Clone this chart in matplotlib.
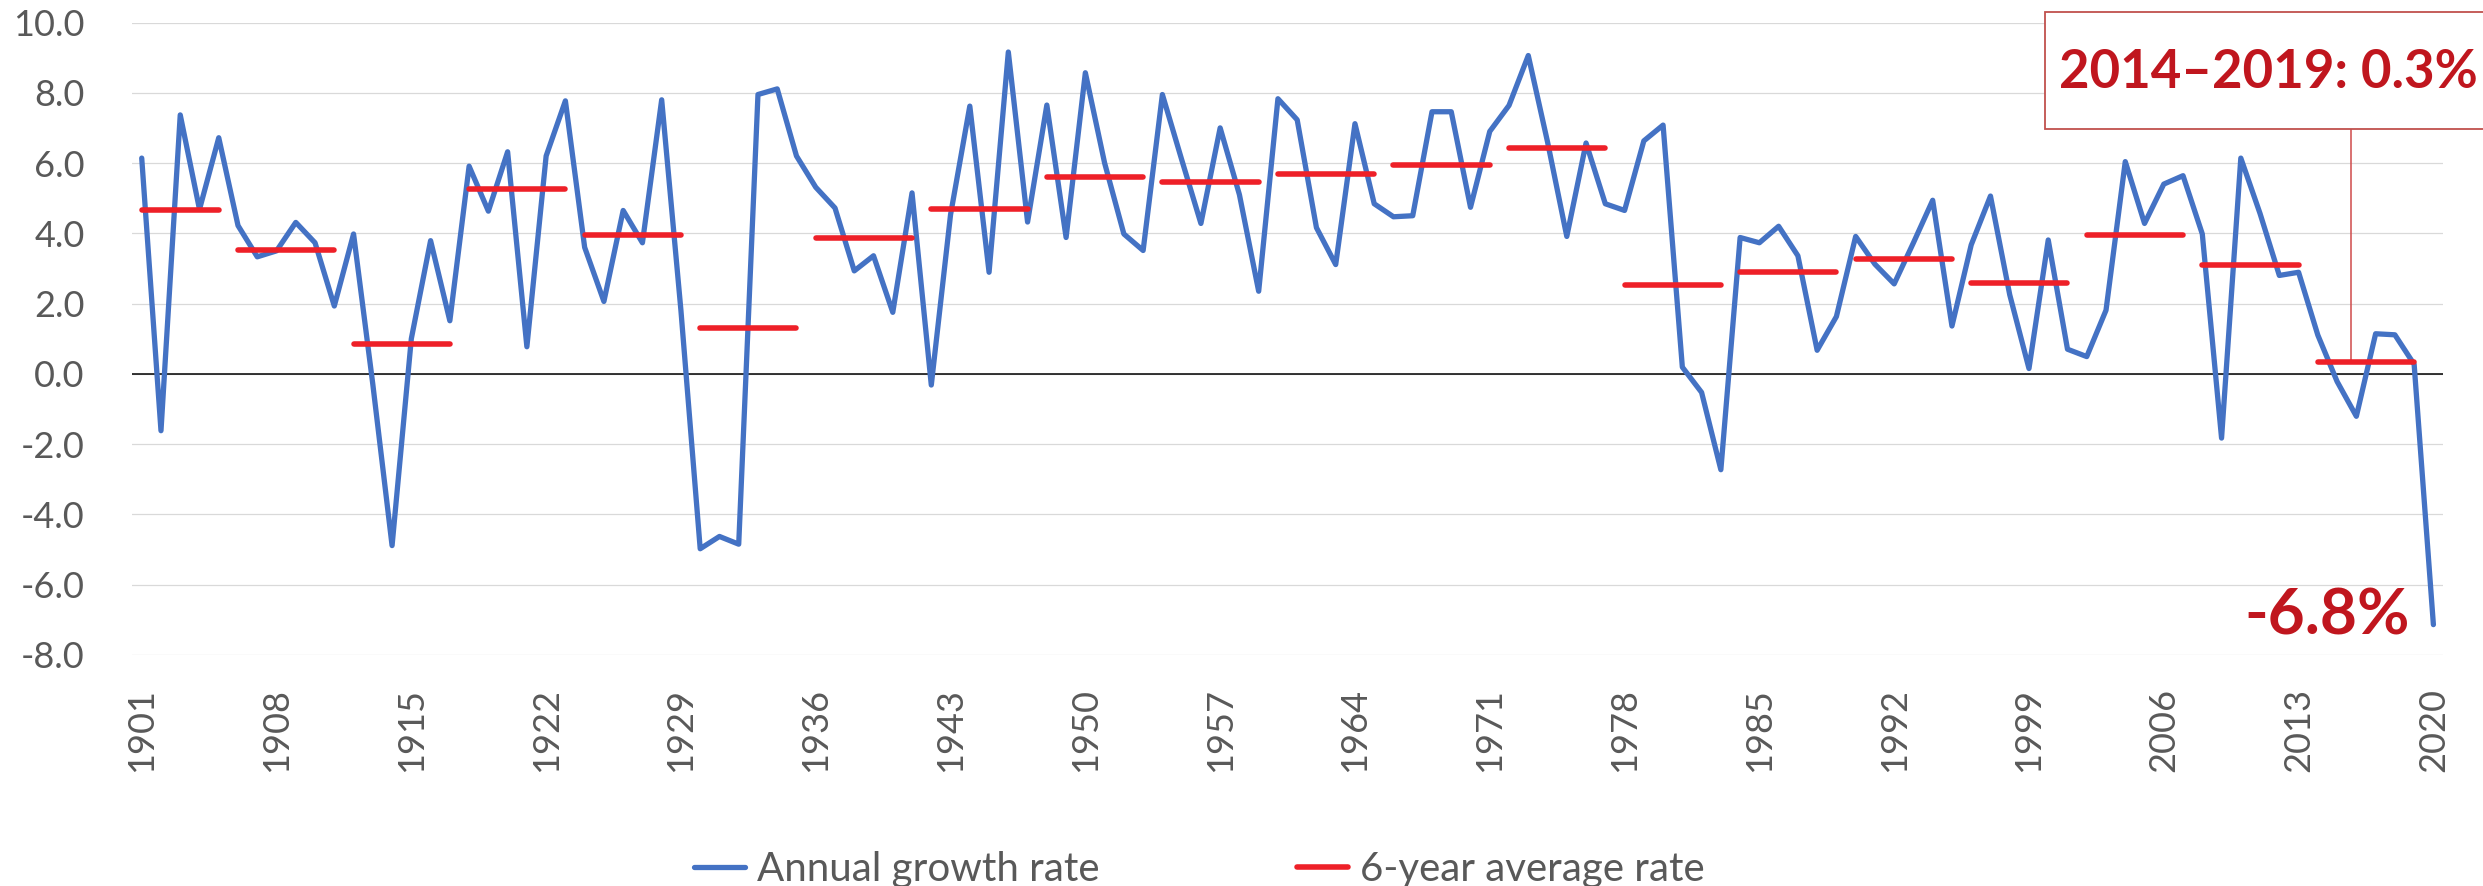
import numpy as np
import matplotlib
matplotlib.use("Agg")
from matplotlib import pyplot as plt
from matplotlib.patches import Rectangle

# annual growth rate, 1901-2020
years = np.arange(1901, 2021)
growth = [
    6.14, -1.62, 7.37, 4.68, 6.72, 4.22, 3.33, 3.50, 4.31, 3.73,   # 1901-1910
    1.93, 3.98, -0.30, -4.89, 1.00, 3.79, 1.51, 5.91, 4.63, 6.32,  # 1911-1920
    0.77, 6.20, 7.77, 3.60, 2.06, 4.65, 3.73, 7.80, 1.80, -4.98,   # 1921-1930
    -4.63, -4.85, 7.95, 8.11, 6.20, 5.31, 4.72, 2.93, 3.36, 1.75,  # 1931-1940
    5.15, -0.32, 4.53, 7.62, 2.89, 9.16, 4.32, 7.65, 3.88, 8.57,   # 1941-1950
    6.00, 3.98, 3.51, 7.95, 6.10, 4.28, 7.00, 5.10, 2.35, 7.83,    # 1951-1960
    7.23, 4.16, 3.11, 7.12, 4.84, 4.47, 4.50, 7.46, 7.46, 4.74,    # 1961-1970
    6.90, 7.64, 9.06, 6.60, 3.91, 6.57, 4.84, 4.65, 6.63, 7.08,    # 1971-1980
    0.19, -0.53, -2.73, 3.88, 3.73, 4.20, 3.36, 0.67, 1.63, 3.91,  # 1981-1990
    3.12, 2.56, 3.73, 4.94, 1.36, 3.67, 5.06, 2.25, 0.15, 3.81,    # 1991-2000
    0.70, 0.49, 1.81, 6.04, 4.28, 5.40, 5.64, 3.98, -1.83, 6.14,   # 2001-2010
    4.56, 2.80, 2.89, 1.10, -0.22, -1.21, 1.14, 1.11, 0.27, -7.14, # 2011-2020
]

# 6-year averages (first block only 5 years)
block_start = [1901, 1906, 1912, 1918, 1924, 1930, 1936, 1942, 1948, 1954,
               1960, 1966, 1972, 1978, 1984, 1990, 1996, 2002, 2008, 2014]
block_end = [1905, 1911, 1917, 1923, 1929, 1935, 1941, 1947, 1953, 1959,
             1965, 1971, 1977, 1983, 1989, 1995, 2001, 2007, 2013, 2019]
block_avg = [4.65, 3.51, 0.85, 5.25, 3.94, 1.30, 3.86, 4.70, 5.60, 5.47,
             5.70, 5.94, 6.44, 2.53, 2.90, 3.27, 2.58, 3.94, 3.09, 0.35]

y_ticks = np.arange(-8, 11, 2)
x_ticks = np.arange(1901, 2021, 7)

BLUE = "#4472C4"
RED = "#EE2028"
DARKRED = "#C0161E"
GREY = "#595959"

plt.rcParams['font.family'] = ['Lato', 'DejaVu Sans']

fig = plt.figure(figsize=(24.83, 8.86), dpi=100)
ax = fig.add_axes([0.0532, 0.2609, 0.9307, 0.7137])

ax.set_xlim(1900.5, 2020.5)
ax.set_ylim(-8, 10)
ax.set_yticks(y_ticks)
ax.set_yticklabels([f"{v:.1f}" for v in y_ticks])
ax.set_xticks(x_ticks)
ax.set_xticklabels([str(x) for x in x_ticks], rotation=90)
ax.tick_params(axis="y", length=0, pad=34, labelsize=26, labelcolor=GREY)
ax.tick_params(axis="x", length=0, pad=24, labelsize=26, labelcolor=GREY)
for s in ax.spines.values():
    s.set_visible(False)
ax.grid(axis="y", color="#D9D9D9", lw=0.9)
ax.set_axisbelow(True)
ax.axhline(0, color="black", lw=1.1, zorder=2)

ax.plot(years, growth, color=BLUE, lw=3.8, solid_joinstyle="round",
        solid_capstyle="round", zorder=3, label="Annual growth rate")
for i, (s, e, v) in enumerate(zip(block_start, block_end, block_avg)):
    ax.plot([s, e], [v, v], color=RED, lw=4.0, solid_capstyle="round", zorder=4,
            label="6-year average rate" if i == 0 else None)

# leader from callout box down to the last average
ax.plot([2015.7, 2015.7], [block_avg[-1], 6.97], color="#D04A4A", lw=1.1, zorder=2)

ax.text(2018.8, -6.9, "-6.8%", ha="right", va="center", fontsize=46,
        fontweight="bold", color=DARKRED)

box = Rectangle((2045 / 2483, 1 - 129 / 886), 0.25, 117 / 886, transform=fig.transFigure,
                facecolor="white", edgecolor="#C0504D", lw=1.3, zorder=5)
fig.add_artist(box)
fig.text(0.9134, 0.9187, "2014\u20132019: 0.3%", ha="center", va="center",
         fontsize=38, fontweight="bold", color=DARKRED, zorder=6)

ax.legend(loc="center", bbox_to_anchor=(0.483, 0.019), bbox_transform=fig.transFigure,
          ncol=2, frameon=False, fontsize=29, labelcolor=GREY, handlelength=1.27,
          handletextpad=0.3, columnspacing=4.9, borderpad=0)

fig.savefig("out.png", dpi=100)
